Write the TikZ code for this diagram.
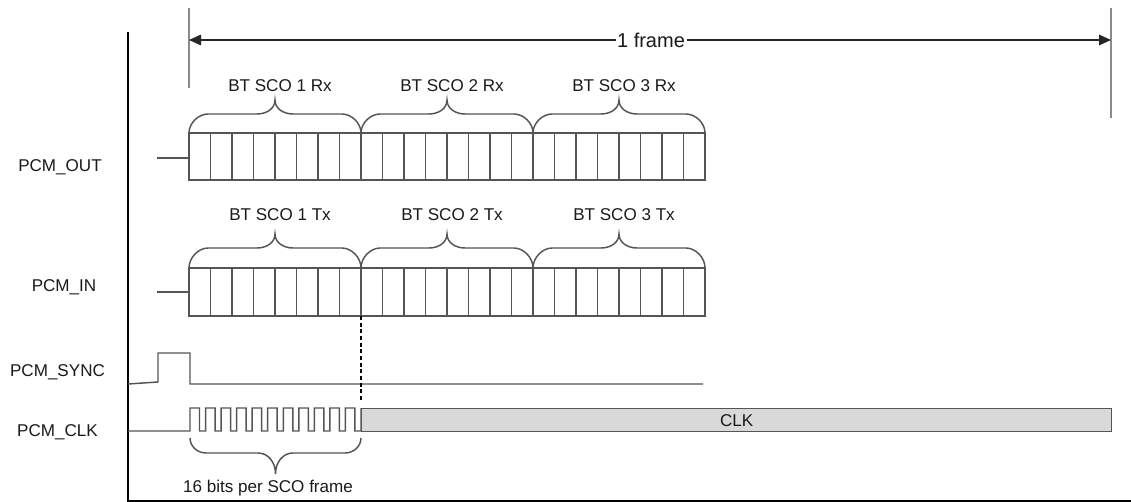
\documentclass[tikz,border=0pt]{standalone}
\usepackage{fontspec}
\setmainfont{Liberation Sans}
\usetikzlibrary{arrows.meta}
\definecolor{sigc}{HTML}{555555}
\definecolor{framec}{HTML}{8A8A8A}
\definecolor{txtc}{HTML}{1A1A1A}
\definecolor{clkfill}{HTML}{D9D9D9}
\begin{document}
\begin{tikzpicture}[x=0.75pt,y=-0.75pt,
  sig/.style={draw=sigc,line width=1.1pt,line join=miter},
  bracestyle/.style={draw=sigc,line width=1.1pt},
  framel/.style={draw=framec,line width=1.1pt},
  axisl/.style={draw=black,line width=1.6pt},
  lbl/.style={font=\fontsize{12.8}{15}\selectfont,text=txtc,inner sep=0pt},
  bigl/.style={font=\fontsize{15}{18}\selectfont,text=txtc,inner sep=1pt,fill=white},
  clkbox/.style={draw=sigc,fill=clkfill,line width=1.1pt,inner sep=0pt,
    minimum width=750*0.75pt,minimum height=23*0.75pt,
    font=\fontsize{12.8}{15}\selectfont,text=txtc}]
\useasboundingbox (0,0) rectangle (1131,502);

% axes
\coordinate (axtop) at (128,32);
\coordinate (axcorner) at (128,501);
\coordinate (axend) at (1131,501);
\draw[axisl] (axtop) -- (axcorner) -- (axend);

% frame marker
\coordinate (fl0) at (189,8);
\coordinate (fl1) at (189,88);
\coordinate (fr0) at (1111,8);
\coordinate (fr1) at (1111,118);
\draw[framel] (fl0) -- (fl1);
\draw[framel] (fr0) -- (fr1);
\coordinate (fal) at (189,40);
\coordinate (far) at (1111,40);
\node[bigl] (frame) at (651,40) {1 frame};
\draw[-{Triangle[length=9pt,width=8pt]},line width=0.8pt,black!85] (frame) -- (far);
\draw[-{Triangle[length=9pt,width=8pt]},line width=0.8pt,black!85] (frame) -- (fal);

% signal labels
\node[lbl] (lout) at (60,167) {PCM\_OUT};
\node[lbl] (lin) at (64,287) {PCM\_IN};
\node[lbl] (lsync) at (57.5,372) {PCM\_SYNC};
\node[lbl] (lclk) at (57.5,432) {PCM\_CLK};

% PCM_OUT cells
\draw[sig] (157,158) -- (189,158);
\draw[sig] (189,133) rectangle (705,180);
\foreach \i in {1,...,23} \draw[sig] ({189+\i*21.5},133) -- ({189+\i*21.5},180);
% PCM_IN cells
\draw[sig] (157,292) -- (189,292);
\draw[sig] (189,268) rectangle (705,316);
\foreach \i in {1,...,23} \draw[sig] ({189+\i*21.5},268) -- ({189+\i*21.5},316);

% braces above the cell groups
\foreach \a/\n in {189/1,361/2,533/3}{
  \pgfmathsetmacro{\m}{\a+86}
  \pgfmathsetmacro{\b}{\a+172}
  \draw[bracestyle] (\a,133) .. controls (\a,122.5) and ({\a+10},114) .. ({\a+19},114)
     -- ({\m-18},114) .. controls ({\m-9},114) and (\m,109) .. (\m,100)
     .. controls (\m,109) and ({\m+9},114) .. ({\m+18},114)
     -- ({\b-19},114) .. controls ({\b-10},114) and (\b,122.5) .. (\b,133);
  \node[lbl] (rx\n) at ({\m+5},86) {BT SCO \n\ Rx};
  \draw[bracestyle] (\a,268) .. controls (\a,257) and ({\a+10},248) .. ({\a+19},248)
     -- ({\m-18},248) .. controls ({\m-9},248) and (\m,243) .. (\m,234)
     .. controls (\m,243) and ({\m+9},248) .. ({\m+18},248)
     -- ({\b-19},248) .. controls ({\b-10},248) and (\b,257) .. (\b,268);
  \node[lbl] (tx\n) at ({\m+5},215) {BT SCO \n\ Tx};
}

% PCM_SYNC
\draw[sig] (128,384) -- (158,382) -- (158,353) -- (190,353) -- (190,384) -- (703,384);

% PCM_CLK
\draw[sig] (128,431) -- (190,431)
  \foreach \k in {0,...,10}{
    -- ({190+\k*15.545},408) -- ({199.5+\k*15.545},408) -- ({199.5+\k*15.545},431) -- ({205.545+\k*15.545},431)
  } -- (361,408);
\node[clkbox,anchor=north west] (clk) at (361,408) {CLK};

% dashed marker
\coordinate (dtop) at (361,316);
\coordinate (dbot) at (361,401);
\draw[black,line width=1.1pt,dash pattern=on 3pt off 2pt] (dtop) -- (dbot);

% bottom brace
\draw[bracestyle] (190,438) .. controls (190,446) and (197,453) .. (206,453)
   -- (258,453) .. controls (268,453) and (275.5,462) .. (275.5,474)
   .. controls (275.5,462) and (283,453) .. (293,453)
   -- (345,453) .. controls (354,453) and (361,446) .. (361,438);
\node[lbl] (bits) at (268,488) {16 bits per SCO frame};
\end{tikzpicture}
\end{document}
